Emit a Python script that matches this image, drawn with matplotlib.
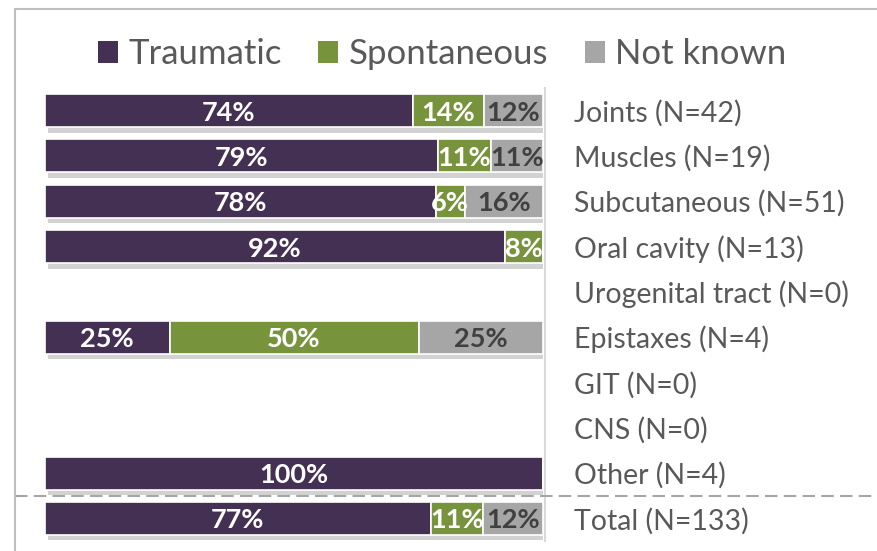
import matplotlib
matplotlib.use("Agg")
import matplotlib.pyplot as plt
import matplotlib.patheffects as pe
from matplotlib.patches import Rectangle, Patch
from matplotlib.transforms import blended_transform_factory

# ── DATA ──────────────────────────────────────────────────────────────────────
categories = ["Joints (N=42)", "Muscles (N=19)", "Subcutaneous (N=51)",
              "Oral cavity (N=13)", "Urogenital tract (N=0)", "Epistaxes (N=4)",
              "GIT (N=0)", "CNS (N=0)", "Other (N=4)", "Total (N=133)"]
traumatic   = [73.81, 78.95, 78.43, 92.31, 0, 25, 0, 0, 100, 77.44]
spontaneous = [14.29, 10.53,  5.88,  7.69, 0, 50, 0, 0,   0, 10.53]
not_known   = [11.90, 10.53, 15.69,  0.00, 0, 25, 0, 0,   0, 12.03]
series_names = ["Traumatic", "Spontaneous", "Not known"]

# ── STYLE ─────────────────────────────────────────────────────────────────────
plt.rcParams["font.family"] = ["Lato", "DejaVu Sans"]
COLORS = ["#433052", "#77933C", "#A6A6A6"]
LABEL_COLORS = ["white", "white", "#404040"]
TEXT_GRAY = "#595959"

W, H = 877, 551
fig = plt.figure(figsize=(W / 100, H / 100), dpi=100)
ax = fig.add_axes([45 / W, 1 - 541 / H, 498 / W, 453 / H])

# ── BARS ──────────────────────────────────────────────────────────────────────
y = list(range(len(categories)))
left = [0.0] * len(categories)
shadow = [pe.SimplePatchShadow(offset=(2, -4), shadow_rgbFace="#808080", alpha=0.35),
          pe.Normal()]
for name, vals, col, lcol in zip(series_names, [traumatic, spontaneous, not_known],
                                 COLORS, LABEL_COLORS):
    bars = ax.barh(y, vals, left=left, height=0.73, color=col,
                   edgecolor="white", linewidth=1.2, label=name)
    for b in bars:
        b.set_path_effects(shadow)
    for yi, v, l in zip(y, vals, left):
        if v > 0:
            ax.text(l + v / 2, yi, f"{round(v):.0f}%", ha="center",
                    va="center_baseline", color=lcol, fontsize=19.5,
                    fontweight="bold")
    left = [l + v for l, v in zip(left, vals)]

ax.set_xlim(0, 100)
ax.set_ylim(len(categories) - 0.5, -0.5)
ax.axis("off")

# vertical axis line right of the bars
ax.axvline(100.4, color="#D9D9D9", linewidth=1.5, clip_on=False)

# category labels on the right
tr = blended_transform_factory(fig.transFigure, ax.transData)
for yi, cat in zip(y, categories):
    ax.text(574 / W, yi, cat, transform=tr, ha="left", va="center_baseline",
            color=TEXT_GRAY, fontsize=20.5)

# dashed separator before Total
ax.plot([15 / W, 1.0], [8.5, 8.5], transform=tr, color="#A6A6A6",
        linewidth=1.5, linestyle=(0, (6, 3)), clip_on=False)

# outer border (top and left visible)
fig.patches.append(Rectangle((15 / W, -0.2), 1.2, 1.2 - 9 / H,
                             transform=fig.transFigure, fill=False,
                             edgecolor="#BFBFBF", linewidth=1.5))

# ── LEGEND ────────────────────────────────────────────────────────────────────
handles = [Patch(facecolor=c, edgecolor="none") for c in COLORS]
fig.legend(handles, series_names, loc="center", bbox_to_anchor=(442 / W, 1 - 54 / H),
           ncol=3, frameon=False, fontsize=25, handlelength=0.58, handleheight=0.58,
           handletextpad=0.3, columnspacing=1.05, labelcolor=TEXT_GRAY)

fig.savefig("out.png", dpi=100)
